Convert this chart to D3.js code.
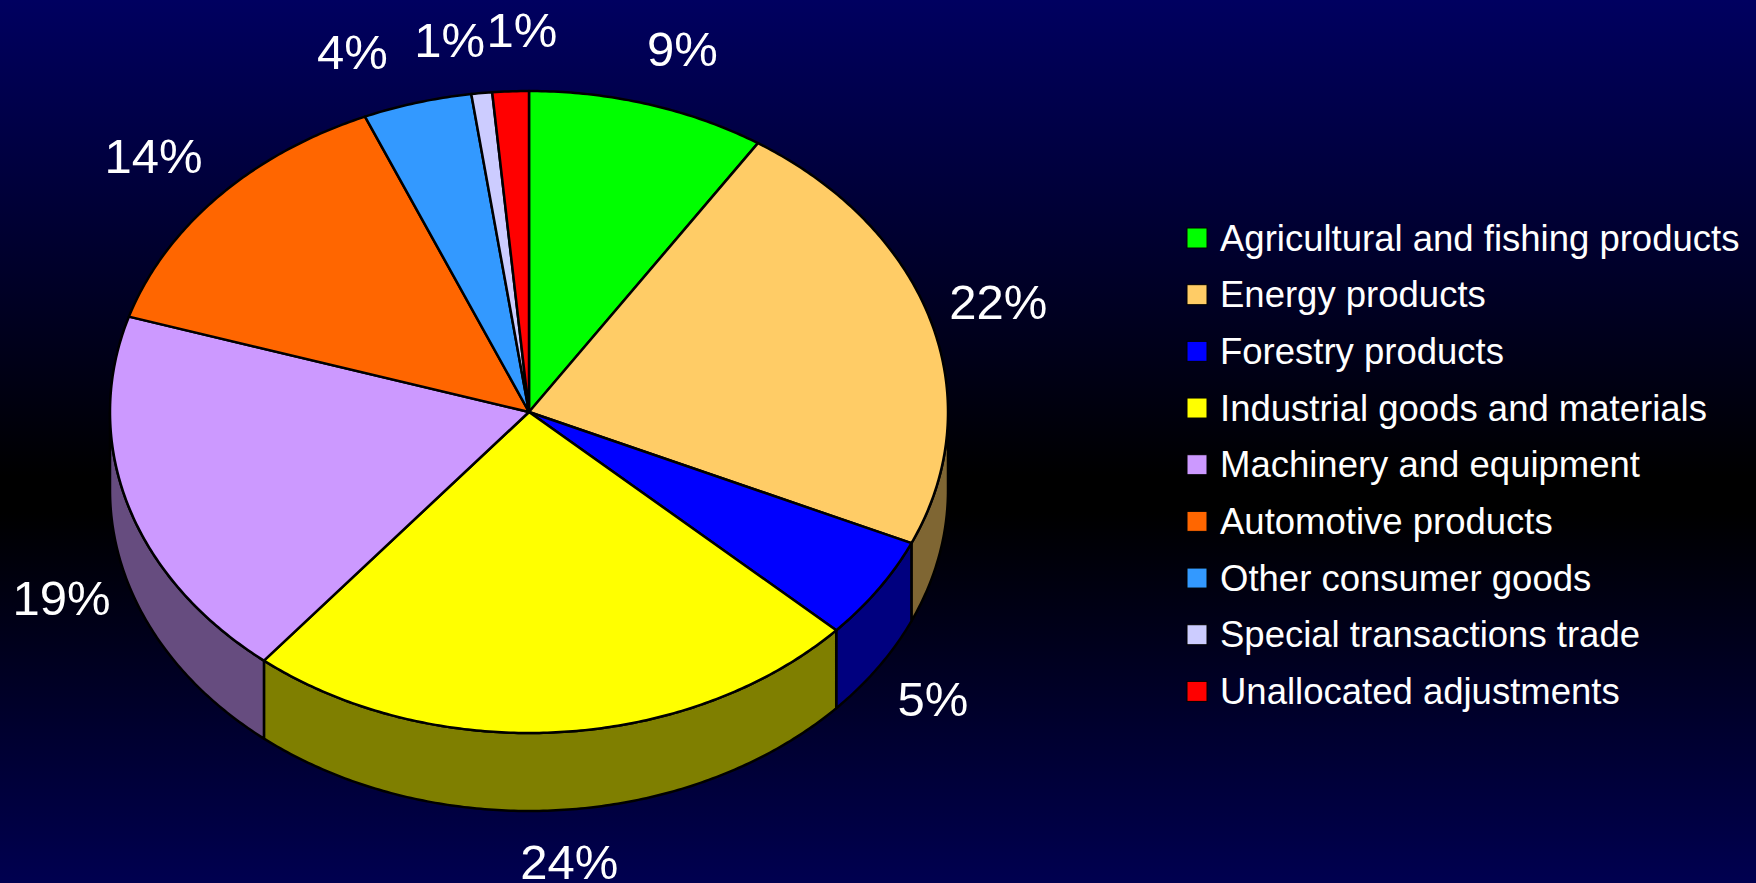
<!DOCTYPE html>
<html>
<head>
<meta charset="utf-8">
<script src="https://d3js.org/d3.v7.min.js"></script>
<style>
  html, body { margin: 0; padding: 0; background: #000; overflow: hidden; }
  text { font-family: "Liberation Sans", Arial, sans-serif; fill: #fff; }
</style>
</head>
<body>
<div id="chart"></div>
<script>
// values (slice angles), labels as printed on the chart
const categories = ['Agricultural and fishing products', 'Energy products', 'Forestry products',
  'Industrial goods and materials', 'Machinery and equipment', 'Automotive products',
  'Other consumer goods', 'Special transactions trade', 'Unallocated adjustments']
const values = [9.2, 22.5, 5.2, 24.0, 18.9, 13.8, 4.2, 0.8, 1.4]
const percentLabels = ['9%', '22%', '5%', '24%', '19%', '14%', '4%', '1%', '1%']
const colors = ['#00ff00', '#ffcc66', '#0000ff', '#ffff00', '#cc99ff', '#ff6600', '#3399ff', '#ccccff', '#ff0000']

// Setup constants
const width = 1756
const height = 883
const cx = 529
const cy = 412
const rx = 419
const ry = 321
const depth = 78
const labelRadius = 1.15
// pushes each label away from its default spot on the ring
const labelNudge = [[16, -10], [7, -6], [2, 83], [7, 81], [-6, 79], [-18, -9], [-48, -5], [-25, -6], [14, -14]]

const svg = d3.select('#chart').append('svg')
  .attr('width', width)
  .attr('height', height)
  .style('display', 'block')

// Background, navy fading to a black band and back
const grad = svg.append('defs').append('linearGradient')
  .attr('id', 'bg')
  .attr('x1', 0).attr('y1', 0).attr('x2', 0).attr('y2', 1)
grad.selectAll('stop')
  .data([[0, '#000060'], [0.54, '#000000'], [0.58, '#000000'], [1, '#000050']])
  .enter()
  .append('stop')
  .attr('offset', d => d[0])
  .attr('stop-color', d => d[1])
svg.append('rect').attr('width', width).attr('height', height).attr('fill', 'url(#bg)')

const pie = d3.pie().sort(null).value(d => d)
const slices = pie(values)

// angle is clockwise from 12 o'clock, same as d3.pie
const ringX = (a, k = 1) => cx + k * rx * Math.sin(a)
const ringY = (a, k = 1) => cy - k * ry * Math.cos(a)
const line = d3.line().x(d => d[0]).y(d => d[1])

function arcPoints(a0, a1, drop = 0) {
  const n = Math.max(2, Math.ceil((a1 - a0) / 0.01))
  return d3.range(n + 1).map(i => {
    const a = a0 + (a1 - a0) * i / n
    return [ringX(a), ringY(a) + drop]
  })
}

// Side walls, only the part of the rim facing us
const wallStart = Math.PI / 2
const wallEnd = Math.PI * 3 / 2
const walls = slices.filter(d => d.endAngle > wallStart && d.startAngle < wallEnd)

svg.append('g')
  .attr('class', 'walls')
  .selectAll('path')
  .data(walls)
  .enter()
  .append('path')
  .attr('fill', d => d3.rgb(colors[d.index]).darker(Math.log(2) / Math.log(1 / 0.7)))
  .attr('stroke', '#000')
  .attr('stroke-width', 2.5)
  .attr('stroke-linejoin', 'round')
  .attr('d', d => {
    const a0 = Math.max(d.startAngle, wallStart)
    const a1 = Math.min(d.endAngle, wallEnd)
    return line(arcPoints(a0, a1).concat(arcPoints(a0, a1, depth).reverse())) + 'Z'
  })

// Top face
svg.append('g')
  .attr('class', 'arcs')
  .selectAll('path')
  .data(slices)
  .enter()
  .append('path')
  .attr('fill', d => colors[d.index])
  .attr('stroke', '#000')
  .attr('stroke-width', 2.5)
  .attr('stroke-linejoin', 'round')
  .attr('d', d => line([[cx, cy]].concat(arcPoints(d.startAngle, d.endAngle))) + 'Z')

// Percent labels
svg.append('g')
  .attr('class', 'labels')
  .selectAll('text')
  .data(slices)
  .enter()
  .append('text')
  .attr('text-anchor', 'middle')
  .attr('dy', '0.358em')
  .attr('font-size', 49)
  .attr('x', d => ringX((d.startAngle + d.endAngle) / 2, labelRadius) + labelNudge[d.index][0])
  .attr('y', d => ringY((d.startAngle + d.endAngle) / 2, labelRadius) + labelNudge[d.index][1])
  .text(d => percentLabels[d.index])

// Legend
const legendY = d3.scalePoint().domain(categories).range([238, 691.4])
const legend = svg.append('g')
  .attr('class', 'legend')
  .selectAll('g')
  .data(categories)
  .enter()
  .append('g')
  .attr('transform', d => 'translate(1187,' + legendY(d) + ')')

legend.append('rect')
  .attr('y', -10)
  .attr('width', 20)
  .attr('height', 20)
  .attr('fill', (d, i) => colors[i])
  .attr('stroke', '#000')
  .attr('stroke-width', 1)

legend.append('text')
  .attr('x', 33)
  .attr('y', 12.5)
  .attr('font-size', 36.5)
  .text(d => d)
</script>
</body>
</html>
